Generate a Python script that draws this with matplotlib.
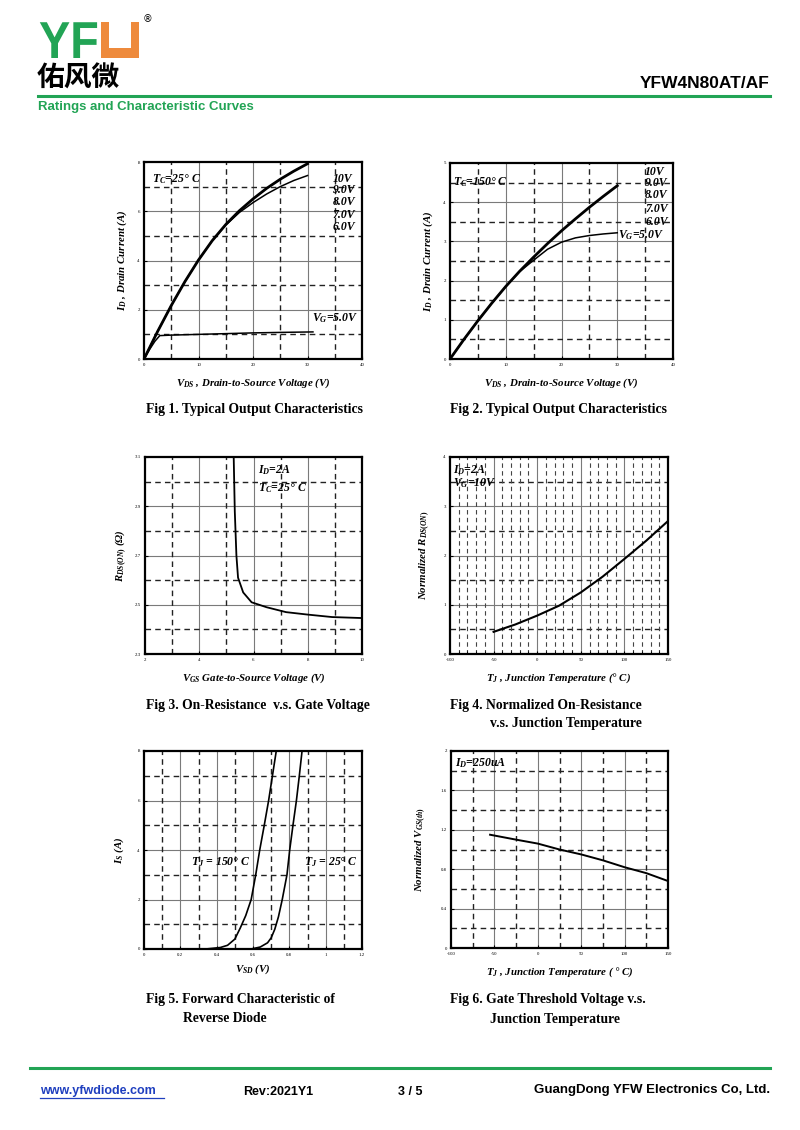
import matplotlib
matplotlib.use("Agg")
import matplotlib.pyplot as plt
from matplotlib.patches import Rectangle, PathPatch
from matplotlib.textpath import TextPath
from matplotlib.font_manager import FontProperties
from matplotlib.transforms import Affine2D

plt.rcParams['font.family'] = ['Liberation Serif', 'DejaVu Serif']
plt.rcParams['mathtext.fontset'] = 'custom'
plt.rcParams['mathtext.it'] = 'Liberation Serif:italic:bold'
plt.rcParams['mathtext.rm'] = 'Liberation Serif:bold'
plt.rcParams['mathtext.bf'] = 'Liberation Serif:bold'

GREEN = '#22a455'
ORANGE = '#ee8a3c'

# ---- Fig 1: output characteristics, Tc=25C
vds1 = [0, 2.5, 5, 7.5, 10, 12.5, 15, 17.5, 20, 22.5, 25, 27.5, 30]
id1_hi = [0, 1.12, 2.17, 3.14, 4.02, 4.8, 5.46, 6.02, 6.5, 6.93, 7.3, 7.63, 7.93]
id1_6v = [0, 1.12, 2.17, 3.14, 4.02, 4.8, 5.44, 5.95, 6.35, 6.7, 7.0, 7.25, 7.45]
vds1_5v = [0, 1, 2, 2.9, 5, 10, 15, 20, 25, 31]
id1_5v = [0, 0.38, 0.72, 0.95, 0.97, 1.0, 1.03, 1.06, 1.08, 1.1]
vg_labels = ['10V', '9.0V', '8.0V', '7.0V', '6.0V']

# ---- Fig 2: output characteristics, Tc=150C
vds2 = [0, 2.5, 5, 7.5, 10, 12.5, 15, 17.5, 20, 22.5, 25, 27.5, 30]
id2_hi = [0, 0.5, 0.975, 1.425, 1.85, 2.24, 2.6, 2.945, 3.27, 3.575, 3.87, 4.15, 4.42]
id2_5v = [0, 0.5, 0.975, 1.425, 1.85, 2.23, 2.52, 2.8, 2.98, 3.09, 3.15, 3.19, 3.22]

# ---- Fig 3: on-resistance vs gate voltage
vgs3 = [5.27, 5.31, 5.37, 5.43, 5.62, 5.93, 6.48, 7.2, 8.0, 8.9, 10]
rds3 = [3.1, 2.88, 2.70, 2.61, 2.55, 2.51, 2.49, 2.47, 2.46, 2.45, 2.446]

# ---- Fig 4: normalized on-resistance vs Tj
tj4 = [-50, -25, 0, 25, 50, 75, 100, 125, 150]
rn4 = [0.45, 0.6, 0.78, 0.98, 1.25, 1.57, 1.93, 2.3, 2.7]

# ---- Fig 5: body diode forward characteristic
vsd150 = [0.34, 0.42, 0.46, 0.50, 0.53, 0.56, 0.59, 0.615, 0.637, 0.662, 0.686, 0.707, 0.728]
is150 = [0, 0.06, 0.15, 0.4, 0.85, 1.35, 2.0, 3.0, 4.0, 5.0, 6.0, 7.0, 8.0]
vsd25 = [0.59, 0.64, 0.68, 0.70, 0.72, 0.74, 0.761, 0.787, 0.802, 0.82, 0.839, 0.855, 0.87]
is25 = [0, 0.08, 0.25, 0.45, 0.8, 1.3, 2.0, 3.0, 4.0, 5.0, 6.0, 7.0, 8.0]

# ---- Fig 6: normalized threshold voltage vs Tj
tj6 = [-55, -25, 0, 25, 50, 75, 100, 125, 150]
vth6 = [1.15, 1.10, 1.06, 1.00, 0.95, 0.89, 0.82, 0.76, 0.68]


def setup(ax, xmaj, xdash, ymaj, ydash, xlab=None, ylab=None):
    ax.set_xlim(xmaj[0], xmaj[-1])
    ax.set_ylim(ymaj[0], ymaj[-1])
    for v in xmaj[1:-1]:
        ax.axvline(v, color='#7a7a7a', lw=0.8, zorder=1)
    for v in ymaj[1:-1]:
        ax.axhline(v, color='#7a7a7a', lw=0.8, zorder=1)
    for v in xdash:
        ax.axvline(v, color='#222222', lw=1.0, ls=(0, (4, 3)), zorder=1)
    for v in ydash:
        ax.axhline(v, color='#222222', lw=1.0, ls=(0, (4, 3)), zorder=1)
    ax.set_xticks(xmaj)
    ax.set_yticks(ymaj)
    ax.set_xticklabels(xlab if xlab else [f'{v:g}' for v in xmaj])
    ax.set_yticklabels(ylab if ylab else [f'{v:g}' for v in ymaj])
    ax.tick_params(direction='in', length=2.5, width=0.8, labelsize=3.5, pad=3)
    for s in ax.spines.values():
        s.set_linewidth(1.6)


def fig_px(l, r, t, b):
    return [l / 800, 1 - b / 1130, (r - l) / 800, (b - t) / 1130]


fig = plt.figure(figsize=(8, 11.3), dpi=100)

# page layer in pixel coordinates
pg = fig.add_axes([0, 0, 1, 1])
pg.set_xlim(0, 800)
pg.set_ylim(1130, 0)
pg.axis('off')

# logo: condensed "YF" drawn as a path, orange U block, Chinese name
yf = TextPath((0, 0), 'YF', size=52, prop=FontProperties(family='Liberation Sans', weight='bold'))
pg.add_patch(PathPatch(yf, color=GREEN, lw=0,
                       transform=Affine2D().scale(0.9, -1).translate(39, 58) + pg.transData))
pg.add_patch(Rectangle((101, 22), 38, 36, color=ORANGE, lw=0))
pg.add_patch(Rectangle((109, 21), 22, 27, color='white', lw=0))
pg.text(148, 19, '®', fontsize=7, family='DejaVu Sans', ha='center', va='center')
pg.text(37, 79, '佑风微', fontsize=20, family='Noto Sans CJK SC', fontweight='bold',
        va='center', ha='left')
pg.text(770, 83, 'YFW4N80AT/AF', fontsize=12.5, fontweight='bold',
        family='Liberation Sans', ha='right', va='center')
pg.plot([38, 770], [96, 96], color=GREEN, lw=2.2)
pg.text(38, 107, 'Ratings and Characteristic Curves', color=GREEN, fontsize=9.5,
        fontweight='bold', family='Liberation Sans', va='center')

caps = [(146, 410, 'Fig 1. Typical Output Characteristics'),
        (450, 410, 'Fig 2. Typical Output Characteristics'),
        (146, 705, 'Fig 3. On-Resistance  v.s. Gate Voltage'),
        (450, 705, 'Fig 4. Normalized On-Resistance'),
        (490, 724, 'v.s. Junction Temperature'),
        (146, 999, 'Fig 5. Forward Characteristic of'),
        (183, 1019, 'Reverse Diode'),
        (450, 999, 'Fig 6. Gate Threshold Voltage v.s.'),
        (490, 1019, 'Junction Temperature')]
for x, y, s in caps:
    pg.text(x, y, s, fontsize=9.8, fontweight='bold', va='center', ha='left')

pg.plot([30, 770], [1068, 1068], color=GREEN, lw=2.2)
pg.text(40, 1091, 'www.yfwdiode.com', color='#1f3fbf', fontsize=9, fontweight='bold',
        family='Liberation Sans', va='center')
pg.plot([40, 164], [1098, 1098], color='#1f3fbf', lw=0.9)
pg.text(243, 1092, 'Rev:2021Y1', fontsize=9, fontweight='bold', family='Liberation Sans', va='center')
pg.text(398, 1092, '3 / 5', fontsize=9, fontweight='bold', family='Liberation Sans', va='center')
pg.text(770, 1090, 'GuangDong YFW Electronics Co, Ltd.', fontsize=9.5, fontweight='bold',
        family='Liberation Sans', va='center', ha='right')

lab = dict(fontsize=7.8, fontstyle='italic', fontweight='bold')
ann = dict(fontsize=8.5, fontstyle='italic', fontweight='bold', va='center', zorder=5)

# Fig 1
ax1 = fig.add_axes(fig_px(144, 362, 162, 359))
setup(ax1, [0, 10, 20, 30, 40], [5, 15, 25, 35], [0, 2, 4, 6, 8], [1, 3, 5, 7])
ax1.plot(vds1, id1_hi, color='black', lw=2.0, zorder=3)
ax1.plot(vds1, id1_6v, color='black', lw=1.1, zorder=3)
ax1.plot(vds1_5v, id1_5v, color='black', lw=1.1, zorder=3)
ax1.set_xlabel(r'$V_{DS}$ , Drain-to-Source Voltage (V)', labelpad=7, **lab)
ax1.set_ylabel(r'$I_{D}$ , Drain Current (A)', labelpad=6, **lab)
ax1.text(1.5, 7.3, r'$T_{C}$=25° C', **ann)
for lbl, yy in zip(vg_labels, [7.31, 6.86, 6.38, 5.85, 5.36]):
    ax1.text(34.6, yy, lbl, **ann)
ax1.text(30.8, 1.66, r'$V_{G}$=5.0V', **ann)

# Fig 2
ax2 = fig.add_axes(fig_px(450, 673, 163, 359))
setup(ax2, [0, 10, 20, 30, 40], [5, 15, 25, 35], [0, 1, 2, 3, 4, 5], [0.5, 1.5, 2.5, 3.5, 4.5])
ax2.plot(vds2, id2_hi, color='black', lw=2.0, zorder=3)
ax2.plot(vds2, id2_5v, color='black', lw=1.1, zorder=3)
ax2.set_xlabel(r'$V_{DS}$ , Drain-to-Source Voltage (V)', labelpad=7, **lab)
ax2.set_ylabel(r'$I_{D}$ , Drain Current (A)', labelpad=6, **lab)
ax2.text(0.6, 4.52, r'$T_{C}$=150° C', **ann)
for lbl, yy in zip(vg_labels, [4.77, 4.49, 4.18, 3.83, 3.5]):
    ax2.text(35.0, yy, lbl, **ann)
ax2.text(30.2, 3.16, r'$V_{G}$=5.0V', **ann)

# Fig 3
ax3 = fig.add_axes(fig_px(145, 362, 457, 654))
setup(ax3, [2, 4, 6, 8, 10], [3, 5, 7, 9], [2.3, 2.5, 2.7, 2.9, 3.1], [2.4, 2.6, 2.8, 3.0])
ax3.plot(vgs3, rds3, color='black', lw=1.3, zorder=3)
ax3.set_xlabel(r'$V_{GS}$ Gate-to-Source Voltage (V)', labelpad=7, **lab)
ax3.set_ylabel(r'$R_{DS(ON)}$ (Ω)', labelpad=4, **lab)
ax3.text(6.17, 3.047, r'$I_{D}$=2A', **ann)
ax3.text(6.17, 2.974, r'$T_{C}$=25° C', **ann)

# Fig 4
ax4 = fig.add_axes(fig_px(450, 668, 457, 654))
setup(ax4, [-100, -50, 0, 50, 100, 150], [], [0, 1, 2, 3, 4], [0.5, 1.5, 2.5, 3.5])
for v in range(-90, 150, 10):
    if v % 50 == 0:
        continue
    heavy = v % 25 == 0
    ax4.axvline(v, color='#111111' if heavy else '#444444', lw=1.2 if heavy else 0.8,
                ls=(0, (4, 3)), zorder=1)
ax4.set_xticks(range(-100, 151, 10), minor=True)
ax4.tick_params(which='minor', direction='in', length=2, width=0.6)
ax4.plot(tj4, rn4, color='black', lw=1.5, zorder=3)
ax4.set_xlabel(r'$T_{J}$ , Junction Temperature (° C)', labelpad=7, **lab)
ax4.set_ylabel(r'Normalized $R_{DS(ON)}$', labelpad=8, **lab)
ax4.text(-96, 3.74, r'$I_{D}$=2A', **ann)
ax4.text(-96, 3.47, r'$V_{G}$=10V', **ann)

# Fig 5
ax5 = fig.add_axes(fig_px(144, 362, 751, 949))
setup(ax5, [0, 0.2, 0.4, 0.6, 0.8, 1.0, 1.2], [0.1, 0.3, 0.5, 0.7, 0.9, 1.1],
      [0, 2, 4, 6, 8], [1, 3, 5, 7])
ax5.plot(vsd150, is150, color='black', lw=1.2, zorder=3)
ax5.plot(vsd25, is25, color='black', lw=1.2, zorder=3)
ax5.set_xlabel(r'$V_{SD}$ (V)', labelpad=4, **lab)
ax5.set_ylabel(r'$I_{S}$ (A)', labelpad=8, **lab)
ax5.text(0.26, 3.52, r'$T_{J}$ = 150° C', **ann)
ax5.text(0.88, 3.52, r'$T_{J}$ = 25° C', **ann)

# Fig 6
ax6 = fig.add_axes(fig_px(451, 668, 751, 948))
setup(ax6, [-100, -50, 0, 50, 100, 150], [-75, -25, 25, 75, 125],
      [0, 0.4, 0.8, 1.2, 1.6, 2.0], [0.2, 0.6, 1.0, 1.4, 1.8])
ax6.plot(tj6, vth6, color='black', lw=1.4, zorder=3)
ax6.set_xlabel(r'$T_{J}$ , Junction Temperature ( ° C)', labelpad=7, **lab)
ax6.set_ylabel(r'Normalized $V_{GS(th)}$', labelpad=9, **lab)
ax6.text(-95, 1.88, r'$I_{D}$=250uA', **ann)

fig.savefig('out.png', dpi=100)
